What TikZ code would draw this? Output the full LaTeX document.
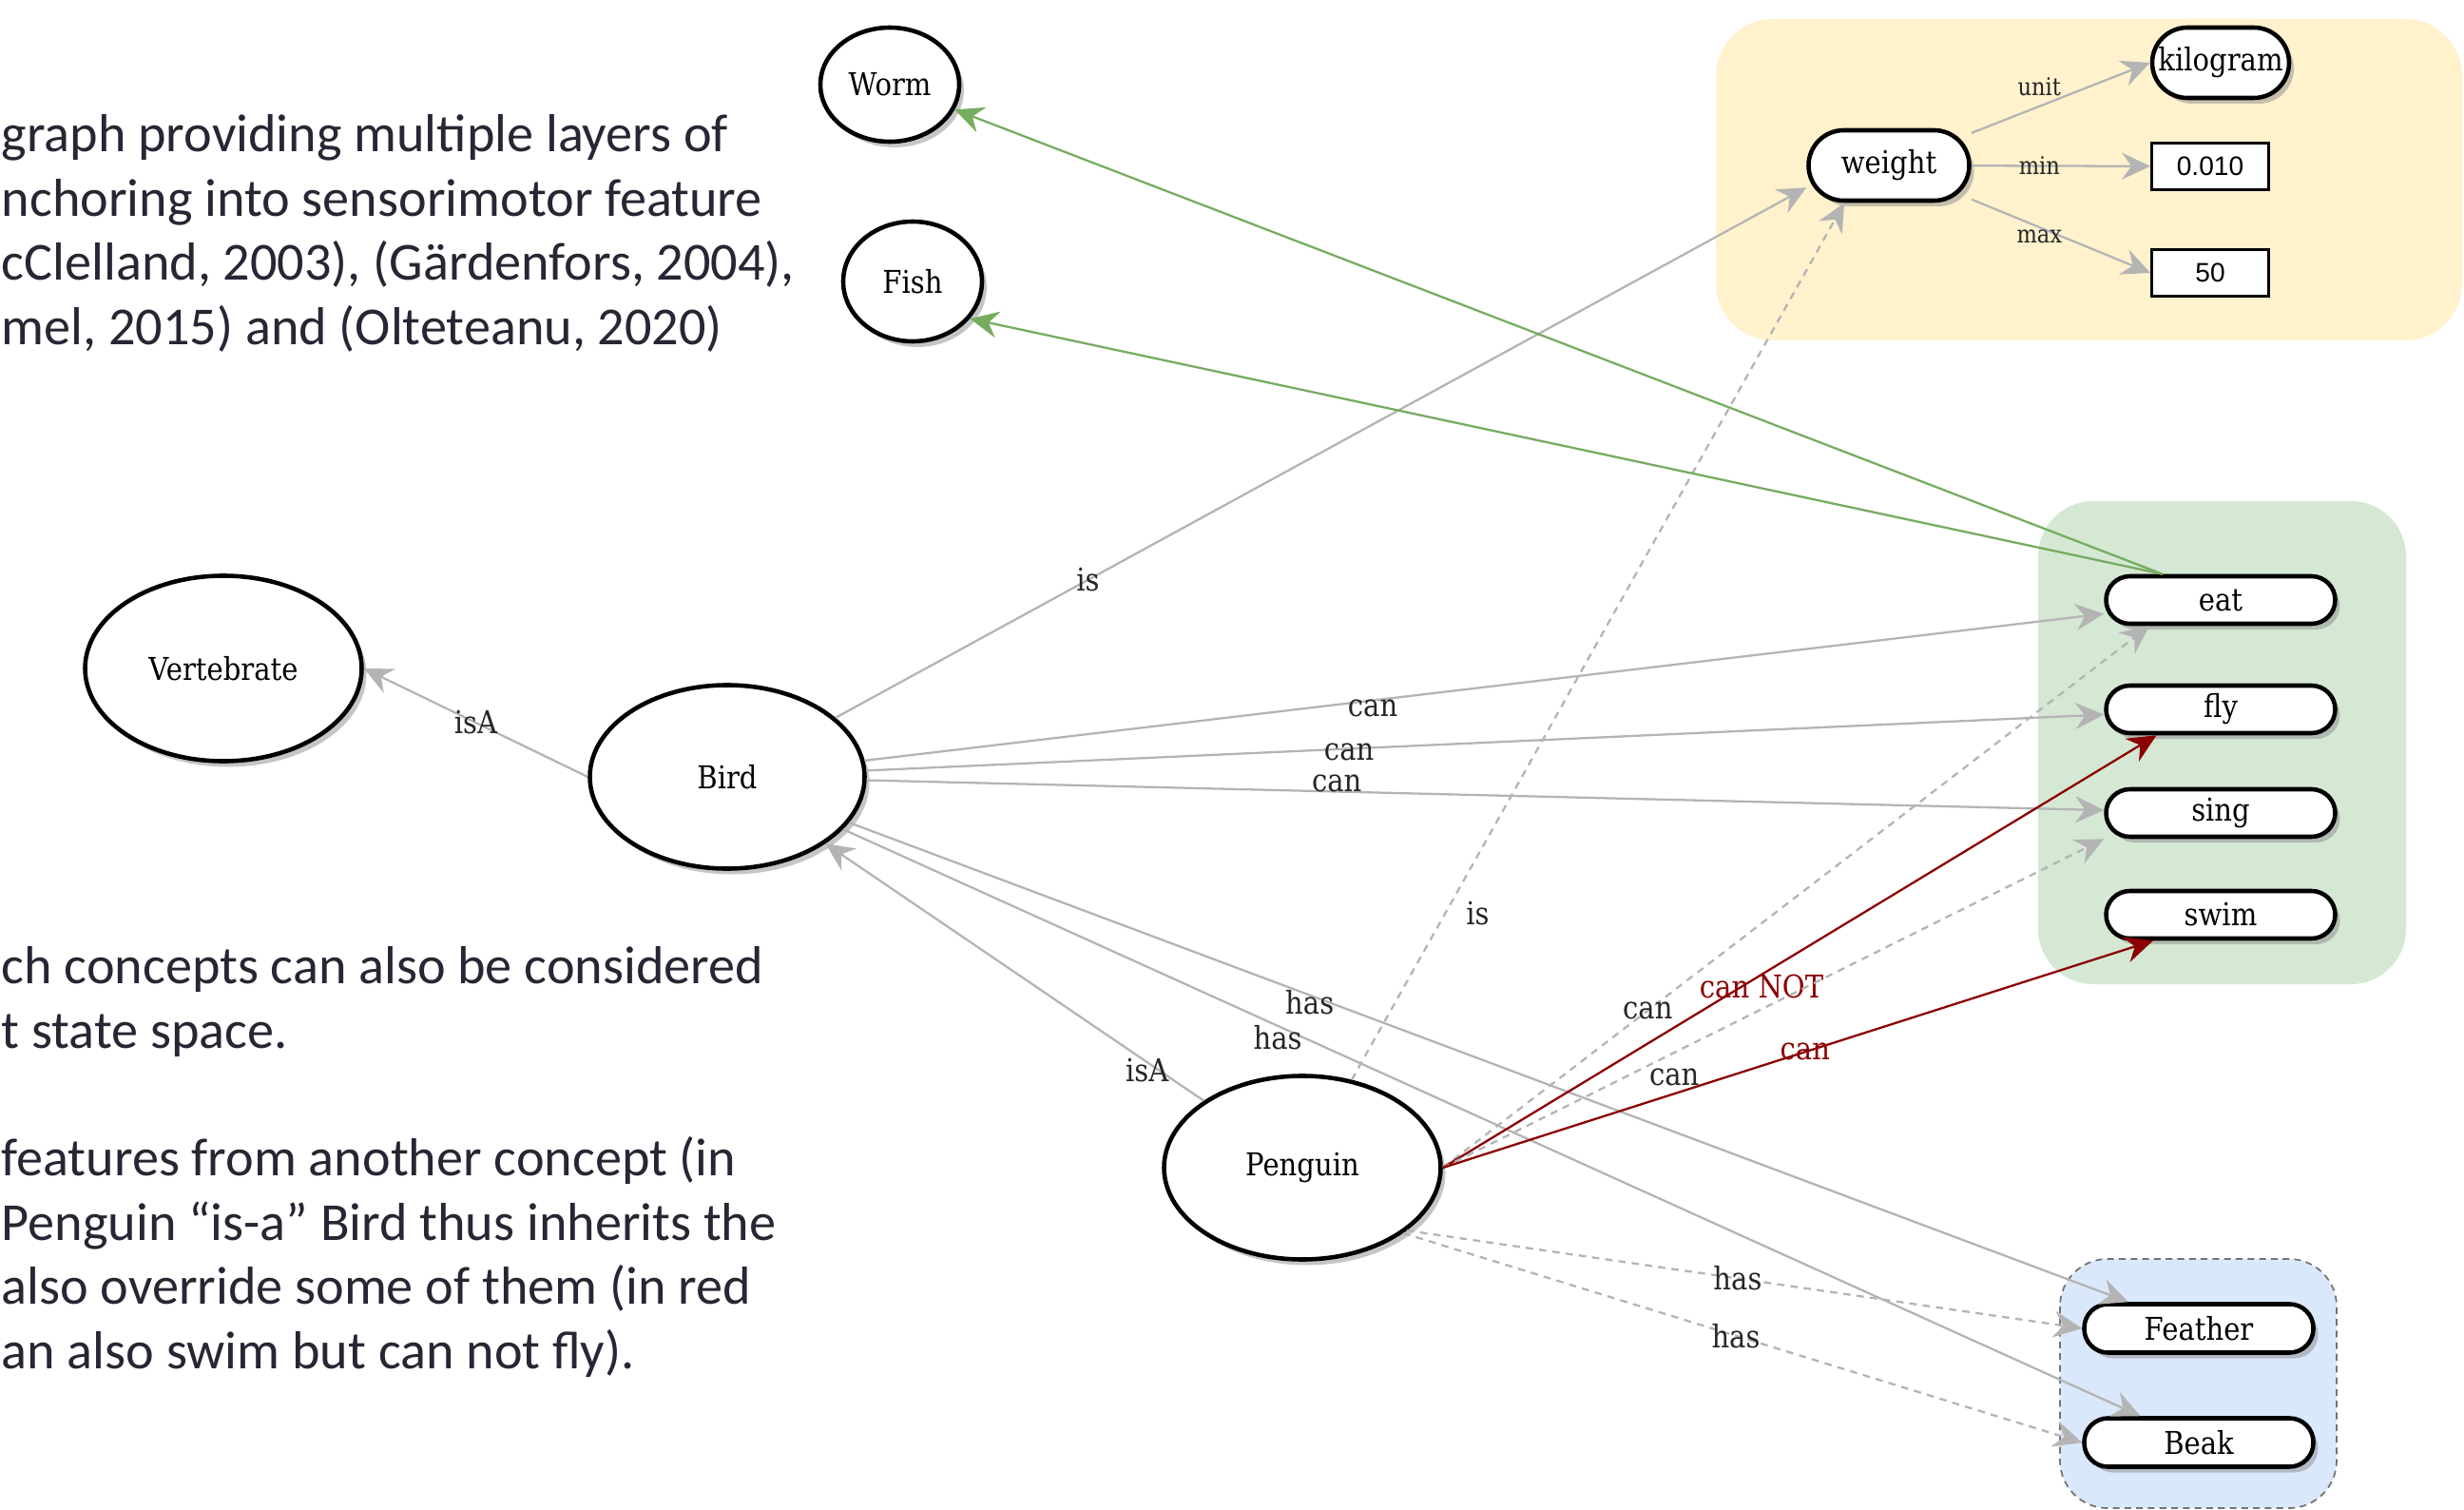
\documentclass[tikz,border=0pt]{standalone}
\usepackage{fontspec}
\newfontfamily\bodyfont{Carlito}
\newfontfamily\graphfont[FakeStretch=0.88]{DejaVu Serif}
\newfontfamily\numfont{Liberation Sans}
\usetikzlibrary{shapes.geometric,arrows.meta,shadows}

\definecolor{edgegray}{RGB}{180,180,180}
\definecolor{eatgreen}{RGB}{118,172,96}
\definecolor{canred}{RGB}{139,0,0}
\definecolor{bodyink}{RGB}{38,38,52}
\definecolor{boxyellow}{RGB}{255,242,204}
\definecolor{boxgreen}{RGB}{213,232,212}
\definecolor{boxblue}{RGB}{218,232,252}

\tikzset{
  concept/.style={ellipse, draw=black, line width=1.3pt, fill=white, inner sep=0pt,
    drop shadow={shadow xshift=0.5mm, shadow yshift=-0.6mm, fill=black!45, opacity=0.5},
    font=\graphfont\fontsize{9.4}{11}\selectfont},
  feature/.style={rectangle, rounded corners=0.25cm, draw=black, line width=1.3pt, fill=white,
    inner sep=0pt, minimum width=2.41cm, minimum height=0.5cm,
    drop shadow={shadow xshift=0.5mm, shadow yshift=-0.6mm, fill=black!45, opacity=0.5},
    font=\graphfont\fontsize{9.4}{11}\selectfont},
  value/.style={rectangle, draw=black, line width=0.8pt, fill=white, inner sep=0pt,
    minimum width=1.23cm, minimum height=0.49cm, font=\numfont\fontsize{8}{9}\selectfont},
  rel/.style={draw=edgegray, line width=0.65pt, -{Stealth[length=3mm, width=2.8mm, inset=1mm]}},
  inherited/.style={rel, dash pattern=on 2.2pt off 1.8pt},
  override/.style={rel, draw=canred},
  food/.style={rel, draw=eatgreen},
  lbl/.style={font=\graphfont\fontsize{9.4}{11}\selectfont, text=black!85, inner sep=0pt},
  smalllbl/.style={lbl, font=\graphfont\fontsize{7.3}{8}\selectfont},
  body/.style={font=\bodyfont\fontsize{16}{19.2}\selectfont, text=bodyink, anchor=base west, inner sep=0pt}
}

\begin{document}
\begin{tikzpicture}
  \useasboundingbox (0,0) rectangle (25.92,-15.88);

  % text on the left
  \node[body] (introa) at (0.01,-1.60) {graph providing multiple layers of};
  \node[body] (introb) at (0.01,-2.28) {nchoring into sensorimotor feature};
  \node[body] (introc) at (0.01,-2.95) {cClelland, 2003), (Gärdenfors, 2004),};
  \node[body] (introd) at (0.01,-3.63) {mel, 2015) and (Olteteanu, 2020)};
  \node[body] (spacea) at (0.01,-10.34) {ch concepts can also be considered};
  \node[body] (spaceb) at (0.01,-11.02) {t state space.};
  \node[body] (inha) at (0.01,-12.36) {features from another concept (in};
  \node[body] (inhb) at (0.01,-13.04) {Penguin “is-a” Bird thus inherits the};
  \node[body] (inhc) at (0.01,-13.71) {also override some of them (in red};
  \node[body] (inhd) at (0.01,-14.39) {an also swim but can not fly).};

  % groups
  \fill[boxyellow, rounded corners=0.6cm] (18.05,-0.20) rectangle (25.90,-3.58);
  \fill[boxgreen, rounded corners=0.58cm] (21.44,-5.27) rectangle (25.31,-10.35);
  \fill[boxblue, rounded corners=0.5cm] (21.67,-13.24) rectangle (24.58,-15.86);
  \draw[black!55, line width=0.5pt, dash pattern=on 2pt off 1.5pt, rounded corners=0.5cm]
    (21.67,-13.24) rectangle (24.58,-15.86);

  % concepts
  \node[concept, minimum width=1.46cm, minimum height=1.20cm] (worm) at (9.36,-0.89) {Worm};
  \node[concept, minimum width=1.46cm, minimum height=1.26cm] (fish) at (9.60,-2.96) {Fish};
  \node[concept, minimum width=2.91cm, minimum height=1.95cm] (vert) at (2.35,-7.03) {Vertebrate};
  \node[concept, minimum width=2.89cm, minimum height=1.93cm] (bird) at (7.65,-8.17) {Bird};
  \node[concept, minimum width=2.91cm, minimum height=1.93cm] (penguin) at (13.70,-12.28) {Penguin};

  % weight
  \node[feature, minimum width=1.69cm, minimum height=0.74cm, rounded corners=0.37cm] (weight) at (19.87,-1.74) {weight};
  \node[feature, minimum width=1.44cm, minimum height=0.74cm, rounded corners=0.37cm] (kilo) at (23.36,-0.66) {kilogram};
  \node[value] (valmin) at (23.25,-1.75) {0.010};
  \node[value] (valmax) at (23.25,-2.87) {50};

  % abilities
  \node[feature] (eat) at (23.36,-6.31) {eat};
  \node[feature] (fly) at (23.36,-7.46) {fly};
  \node[feature] (sing) at (23.36,-8.55) {sing};
  \node[feature] (swim) at (23.36,-9.62) {swim};

  % parts
  \node[feature, minimum height=0.51cm] (feather) at (23.13,-13.97) {Feather};
  \node[feature, minimum height=0.51cm] (beak) at (23.13,-15.17) {Beak};

  % bird
  \draw[rel] (bird.west) -- node[lbl, pos=0.5] {isA} (vert.east);
  \draw[rel] (bird) -- node[lbl, pos=0.26] {is} (weight.195);
  \draw[rel] (bird) -- node[lbl, pos=0.41, yshift=-0.8mm] {can} (eat);
  \draw[rel] (bird) -- node[lbl, pos=0.39, yshift=-0.3mm] {can} (fly);
  \draw[rel] (bird) -- node[lbl, pos=0.38, yshift=0.9mm] {can} (sing);
  \draw[rel] (bird) -- node[lbl, pos=0.36, yshift=-0.8mm] {has} (feather);
  \draw[rel] (bird) -- node[lbl, pos=0.335, yshift=-1.2mm] {has} (beak);

  % penguin
  \draw[rel] (penguin) -- node[lbl, pos=0.15, yshift=-0.9mm] {isA} (bird);
  \draw[inherited] (penguin) -- node[lbl, pos=0.19, xshift=3.4mm] {is} (weight.220);
  \draw[inherited] (penguin.east) -- node[lbl, pos=0.29] {can} (eat.200);
  \draw[override] (penguin.east) -- node[lbl, text=canred, pos=0.42, xshift=2mm] {can NOT} (fly.202);
  \draw[inherited] (penguin.east) -- node[lbl, pos=0.35, yshift=-2.6mm] {can} (sing.south west);
  \draw[override] (penguin.east) -- node[lbl, text=canred, pos=0.51] {can} (swim.201);
  \draw[inherited] (penguin.-31) -- node[lbl, pos=0.49] {has} (feather.west);
  \draw[inherited] (penguin.-33) -- node[lbl, pos=0.49] {has} (beak.west);

  % eat
  \draw[food] (eat.156) -- (worm);
  \draw[food] (eat.156) -- (fish.-33);

  % weight values
  \draw[rel] (weight) -- node[smalllbl, pos=0.38, yshift=2.1mm] {unit} (kilo.west);
  \draw[rel] (weight) -- node[smalllbl, pos=0.38] {min} (valmin);
  \draw[rel] (weight) -- node[smalllbl, pos=0.38, yshift=-1mm] {max} (valmax.west);
\end{tikzpicture}
\end{document}
